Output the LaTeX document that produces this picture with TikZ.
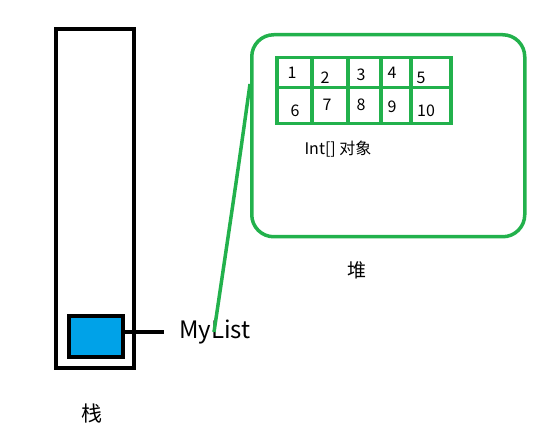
\documentclass[tikz,border=0pt]{standalone}
\usepackage{fontspec}
\setmainfont{Noto Sans CJK SC}
\definecolor{pgreen}{HTML}{22B14C}
\definecolor{pblue}{HTML}{00A2E8}
\tikzset{
  blk/.style={draw=black, line width=4pt},
  grn/.style={draw=pgreen, line width=3.5pt},
  num/.style={font=\fontsize{16}{16}\selectfont, inner sep=0pt},
  cell/.style={grn, line width=3.5pt, inner sep=0pt, anchor=north west},
}
\begin{document}
\begin{tikzpicture}[x=1pt,y=-1pt]
\useasboundingbox (0,0) rectangle (542,428);
% stack
\node[blk, minimum width=78pt, minimum height=339pt, inner sep=0pt, anchor=north west] (stack) at (54,27) {};
\node[blk, fill=pblue, minimum width=54pt, minimum height=41pt, inner sep=0pt, anchor=north west] (ref) at (67,314) {};
\coordinate (refend) at (164,332);
\draw[blk, line width=3.5pt] (ref.east |- refend) -- (refend);
\node[font=\fontsize{24}{24}\selectfont, anchor=west, inner sep=0pt] (mylist) at (179,332) {MyList};
\node[font=\fontsize{21}{21}\selectfont, inner sep=0pt] (zhan) at (92,414) {栈};
% heap
\node[grn, rounded corners=22pt, minimum width=273pt, minimum height=202pt, inner sep=0pt, anchor=north west] (heap) at (250,33) {};
\node[font=\fontsize{19}{19}\selectfont, inner sep=0pt] (dui) at (357,270) {堆};
\coordinate (lstart) at (250,84);
\coordinate (lend) at (214,332);
\draw[grn, line width=3.5pt] (lstart) .. controls (238,170) .. (lend);
% grid
\node[cell, minimum width=35pt, minimum height=30pt] (c1) at (275,56) {};
\node[cell, minimum width=36pt, minimum height=30pt] (c2) at (310,56) {};
\node[cell, minimum width=33pt, minimum height=30pt] (c3) at (346,56) {};
\node[cell, minimum width=30pt, minimum height=30pt] (c4) at (379,56) {};
\node[cell, minimum width=40pt, minimum height=30pt] (c5) at (409,56) {};
\node[cell, minimum width=35pt, minimum height=36pt] (c6) at (275,86) {};
\node[cell, minimum width=36pt, minimum height=36pt] (c7) at (310,86) {};
\node[cell, minimum width=33pt, minimum height=36pt] (c8) at (346,86) {};
\node[cell, minimum width=30pt, minimum height=36pt] (c9) at (379,86) {};
\node[cell, minimum width=40pt, minimum height=36pt] (c10) at (409,86) {};
\node[num] (n1) at (292,73) {1};
\node[num] (n2) at (325,78) {2};
\node[num] (n3) at (361,75) {3};
\node[num] (n4) at (392,73) {4};
\node[num] (n5) at (421,78) {5};
\node[num] (n6) at (295,111) {6};
\node[num] (n7) at (327,105) {7};
\node[num] (n8) at (361,105) {8};
\node[num] (n9) at (392,107) {9};
\node[num] (n10) at (426,111) {10};
\node[font=\fontsize{16}{16}\selectfont, inner sep=0pt] (label) at (338,149) {Int[] 对象};
\end{tikzpicture}
\end{document}
